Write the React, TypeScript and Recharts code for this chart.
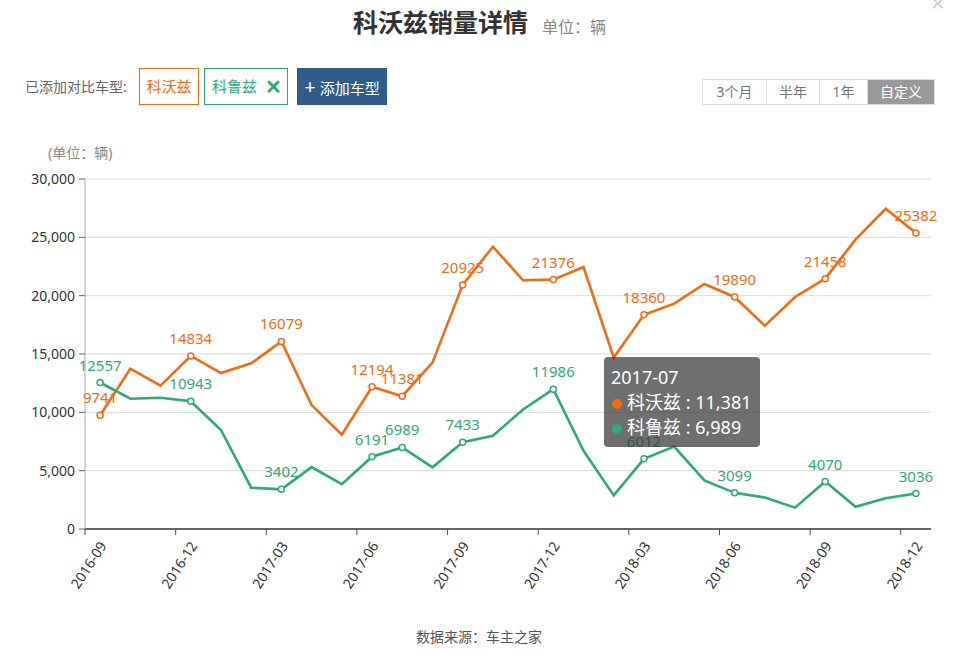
import { LineChart, Line, XAxis, YAxis, CartesianGrid, Tooltip, LabelList } from 'recharts';

const months = [
  '2016-09', '2016-10', '2016-11', '2016-12',
  '2017-01', '2017-02', '2017-03', '2017-04', '2017-05', '2017-06',
  '2017-07', '2017-08', '2017-09', '2017-10', '2017-11', '2017-12',
  '2018-01', '2018-02', '2018-03', '2018-04', '2018-05', '2018-06',
  '2018-07', '2018-08', '2018-09', '2018-10', '2018-11', '2018-12',
];

// 科沃兹 monthly sales
const kewozi = [
  9741, 13740, 12290, 14834, 13370, 14200, 16079, 10620, 8080, 12194,
  11381, 14260, 20925, 24200, 21320, 21376, 22460, 14690, 18360, 19320,
  21000, 19890, 17420, 19890, 21458, 24800, 27450, 25382,
];

// 科鲁兹 monthly sales
const keluzi = [
  12557, 11170, 11250, 10943, 8486, 3540, 3402, 5300, 3840, 6191,
  6989, 5290, 7433, 7990, 10250, 11986, 6700, 2880, 6012, 7060,
  4170, 3099, 2700, 1830, 4070, 1900, 2640, 3036,
];

const yTicks = [0, 5000, 10000, 15000, 20000, 25000, 30000];

// months whose values are printed on the chart
const labeledMonths = [
  '2016-09', '2016-12', '2017-03', '2017-06', '2017-07', '2017-09',
  '2017-12', '2018-03', '2018-06', '2018-09', '2018-12',
];

const hoverMonth = '2017-07';

const ORANGE = '#f26a12';
const GREEN = '#2fa87a';
const FONT = '"Noto Sans", "Noto Sans CJK SC", sans-serif';

const CHART_W = 961;
const CHART_H = 667;
const MARGIN = { top: 179, right: 30, left: 25, bottom: 58 };
const Y_AXIS_W = 60;
const HALF_BAND = (CHART_W - MARGIN.left - Y_AXIS_W - MARGIN.right) / months.length / 2;

const data = months.map((month, i) => ({ month, kewozi: kewozi[i], keluzi: keluzi[i] }));

function MonthTick(props: any) {
  const { x, y, payload } = props;
  return (
    <g>
      <line x1={x - HALF_BAND} x2={x - HALF_BAND} y1={y - 6} y2={y} stroke="#555" />
      <text
        x={0}
        y={0}
        dy="0.35em"
        transform={`translate(${x + 3},${y + 8}) rotate(-57)`}
        textAnchor="end"
        fill="#333"
        fontSize={14}
        fontFamily={FONT}
      >
        {payload.value}
      </text>
    </g>
  );
}

function makeDot(color: string) {
  return (p: any) =>
    labeledMonths.includes(p.payload.month) ? (
      <circle key={`dot-${p.index}`} cx={p.cx} cy={p.cy} r={3} fill="#fff" stroke={color} strokeWidth={1.5} />
    ) : (
      <g key={`dot-${p.index}`} />
    );
}

function makeLabel(color: string) {
  return (p: any) => {
    if (!labeledMonths.includes(months[p.index])) return null;
    return (
      <text x={p.x} y={p.y - 12} textAnchor="middle" fill={color} fontSize={15} fontFamily={FONT}>
        {p.value}
      </text>
    );
  };
}

function HoverCard({ active, payload, label }: any) {
  if (!active || !payload || !payload.length) return null;
  return (
    <div
      style={{
        background: 'rgba(50,50,50,0.7)',
        borderRadius: 4,
        padding: '8px 8px 7px 7px',
        color: '#fff',
        fontSize: 18,
        lineHeight: '25px',
        fontFamily: FONT,
        whiteSpace: 'nowrap',
      }}
    >
      <div>{label}</div>
      {payload.map((item: any) => (
        <div key={item.dataKey}>
          <span
            style={{
              display: 'inline-block',
              width: 10,
              height: 10,
              borderRadius: 5,
              background: item.color,
              marginRight: 5,
              marginLeft: 1,
            }}
          />
          {item.name} : {Number(item.value).toLocaleString('en-US')}
        </div>
      ))}
    </div>
  );
}

const abs = (left: number, top: number, extra: React.CSSProperties = {}): React.CSSProperties => ({
  position: 'absolute',
  left,
  top,
  whiteSpace: 'nowrap',
  ...extra,
});

const rangeButtons = [
  { text: '3个月', width: 63 },
  { text: '半年', width: 53 },
  { text: '1年', width: 48 },
  { text: '自定义', width: 67 },
];

export default function App() {
  return (
    <div
      style={{
        position: 'absolute',
        left: 0,
        top: 0,
        width: CHART_W,
        height: CHART_H,
        background: '#fff',
        fontFamily: FONT,
        overflow: 'hidden',
      }}
    >
      <LineChart width={CHART_W} height={CHART_H} data={data} margin={MARGIN}>
        <CartesianGrid vertical={false} stroke="#d9d9d9" />
        <XAxis
          dataKey="month"
          interval={2}
          padding={{ left: HALF_BAND, right: HALF_BAND }}
          height={80}
          tickSize={6}
          tickMargin={0}
          tickLine={false}
          axisLine={{ stroke: '#666', strokeWidth: 2 }}
          tick={<MonthTick />}
        />
        <YAxis
          width={Y_AXIS_W}
          domain={[0, 30000]}
          ticks={yTicks}
          interval={0}
          tickSize={6}
          tickMargin={4}
          tickFormatter={(v: number) => v.toLocaleString('en-US')}
          tick={{ fill: '#333', fontSize: 14, fontFamily: FONT }}
          tickLine={{ stroke: '#666' }}
          axisLine={{ stroke: '#aaa' }}
        />
        <Tooltip
          defaultIndex={months.indexOf(hoverMonth)}
          position={{ x: 604, y: 357 }}
          cursor={false}
          isAnimationActive={false}
          content={<HoverCard />}
        />
        <Line
          type="linear"
          dataKey="kewozi"
          name="科沃兹"
          stroke={ORANGE}
          strokeWidth={2.6}
          dot={makeDot(ORANGE)}
          activeDot={false}
          isAnimationActive={false}
        >
          <LabelList dataKey="kewozi" content={makeLabel(ORANGE)} />
        </Line>
        <Line
          type="linear"
          dataKey="keluzi"
          name="科鲁兹"
          stroke={GREEN}
          strokeWidth={2.6}
          dot={makeDot(GREEN)}
          activeDot={false}
          isAnimationActive={false}
        >
          <LabelList dataKey="keluzi" content={makeLabel(GREEN)} />
        </Line>
      </LineChart>

      <div style={abs(353, 8, { fontSize: 25, lineHeight: '28px', fontWeight: 600, color: '#333' })}>
        科沃兹销量详情
      </div>
      <div style={abs(542, 17, { fontSize: 16, lineHeight: '20px', color: '#888' })}>单位：辆</div>
      <div style={abs(931, -9, { fontSize: 24, lineHeight: '24px', color: '#ccc' })}>×</div>

      <div style={abs(25, 77, { fontSize: 14, lineHeight: '20px', color: '#666' })}>已添加对比车型:</div>
      <div
        style={abs(139, 68, {
          width: 58,
          height: 35,
          border: `1px solid ${ORANGE}`,
          color: ORANGE,
          fontSize: 15,
          lineHeight: '35px',
          textAlign: 'center',
        })}
      >
        科沃兹
      </div>
      <div
        style={abs(204, 68, {
          width: 75,
          height: 35,
          border: `1px solid ${GREEN}`,
          color: GREEN,
          fontSize: 15,
          lineHeight: '35px',
          paddingLeft: 7,
          boxSizing: 'content-box',
        })}
      >
        科鲁兹
        <span style={{ position: 'absolute', left: 60, top: 0, fontSize: 20, fontWeight: 700 }}>✕</span>
      </div>
      <div
        style={abs(297, 68, {
          width: 90,
          height: 37,
          background: '#2e5d8c',
          color: '#fff',
          fontSize: 15,
          lineHeight: '37px',
          textAlign: 'center',
        })}
      >
        <span style={{ fontSize: 20, marginRight: 4 }}>+</span>添加车型
      </div>

      <div style={abs(702, 79, { display: 'flex', border: '1px solid #ddd', height: 24 })}>
        {rangeButtons.map((b, i) => (
          <div
            key={b.text}
            style={{
              width: b.width,
              height: 24,
              lineHeight: '24px',
              textAlign: 'center',
              fontSize: 14,
              color: i === rangeButtons.length - 1 ? '#fff' : '#777',
              background: i === rangeButtons.length - 1 ? '#999' : '#fff',
              borderLeft: i === 0 ? 'none' : '1px solid #ddd',
              boxSizing: 'border-box',
            }}
          >
            {b.text}
          </div>
        ))}
      </div>

      <div style={abs(48, 143, { fontSize: 14, lineHeight: '20px', color: '#888' })}>(单位：辆)</div>

      <div style={abs(379, 627, { width: 200, textAlign: 'center', fontSize: 14, lineHeight: '20px', color: '#555' })}>
        数据来源：车主之家
      </div>
    </div>
  );
}
